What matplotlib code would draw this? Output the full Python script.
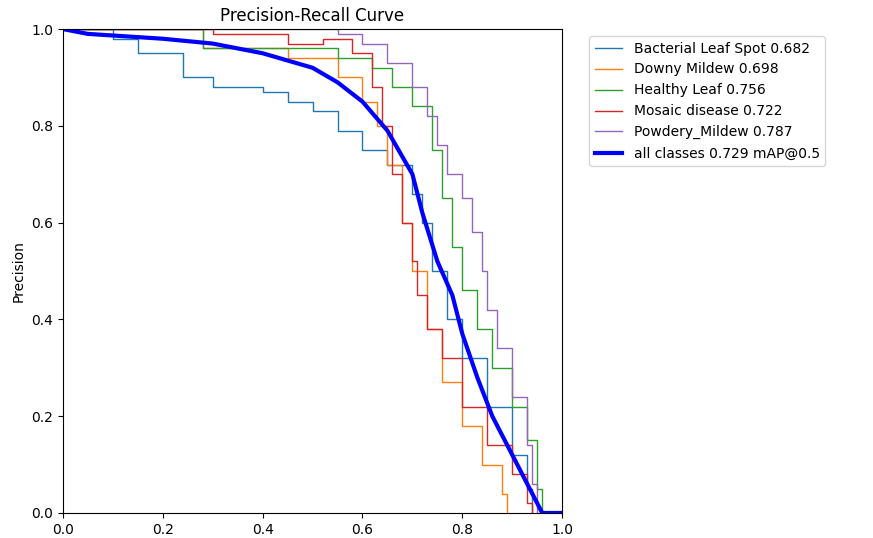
import matplotlib
matplotlib.use("Agg")
import matplotlib.pyplot as plt

names = ["Bacterial Leaf Spot 0.682", "Downy Mildew 0.698", "Healthy Leaf 0.756",
         "Mosaic disease 0.722", "Powdery_Mildew 0.787"]
rec_bact = [0,0.1,0.15,0.24,0.3,0.4,0.45,0.5,0.55,0.6,0.65,0.7,0.72,0.74,0.77,0.8,0.85,0.9,0.93,0.94]
pre_bact = [1,0.98,0.95,0.9,0.88,0.87,0.85,0.83,0.79,0.75,0.72,0.66,0.6,0.5,0.4,0.32,0.22,0.12,0.05,0]
rec_downy = [0,0.2,0.28,0.45,0.55,0.6,0.63,0.65,0.68,0.7,0.73,0.76,0.8,0.84,0.88,0.89]
pre_downy = [1,1,0.96,0.94,0.9,0.85,0.8,0.72,0.6,0.5,0.38,0.27,0.18,0.1,0.04,0]
rec_health = [0,0.27,0.28,0.4,0.55,0.62,0.66,0.7,0.74,0.76,0.78,0.8,0.83,0.86,0.9,0.93,0.95,0.96]
pre_health = [1,1,0.96,0.96,0.94,0.92,0.88,0.84,0.75,0.65,0.55,0.46,0.38,0.3,0.22,0.15,0.05,0]
rec_mosaic = [0,0.3,0.45,0.52,0.58,0.62,0.64,0.66,0.68,0.7,0.71,0.73,0.76,0.8,0.85,0.9,0.93,0.94]
pre_mosaic = [1,0.99,0.97,0.98,0.95,0.88,0.8,0.7,0.6,0.52,0.45,0.38,0.32,0.22,0.14,0.08,0.02,0]
rec_powd = [0,0.3,0.55,0.6,0.65,0.7,0.73,0.75,0.77,0.8,0.82,0.84,0.85,0.87,0.9,0.93,0.94,0.95]
pre_powd = [1,1,0.99,0.97,0.93,0.88,0.82,0.76,0.7,0.65,0.58,0.5,0.42,0.34,0.24,0.14,0.06,0]
rec_all = [0,0.05,0.2,0.3,0.4,0.5,0.55,0.6,0.65,0.7,0.72,0.75,0.78,0.8,0.83,0.86,0.9,0.93,0.95,0.96,1]
pre_all = [1,0.99,0.98,0.97,0.95,0.92,0.89,0.85,0.79,0.7,0.62,0.52,0.45,0.37,0.28,0.2,0.12,0.06,0.02,0,0]

fig = plt.figure(figsize=(8.73, 5.38), dpi=100)
ax = fig.add_axes([0.072, 0.0465, 0.572, 0.8995])
series = [(rec_bact, pre_bact), (rec_downy, pre_downy), (rec_health, pre_health),
          (rec_mosaic, pre_mosaic), (rec_powd, pre_powd)]
for i, (r, p) in enumerate(series):
    ax.plot(r, p, drawstyle="steps-post", lw=1, color=f"C{i}", label=names[i])
ax.plot(rec_all, pre_all, lw=3, color="blue", label="all classes 0.729 mAP@0.5")
ax.set_xlim(0, 1)
ax.set_ylim(0, 1)
ax.set_ylabel("Precision")
ax.set_title("Precision-Recall Curve")
ax.legend(bbox_to_anchor=(1.04, 1), loc="upper left")
fig.savefig("out.png", dpi=100)
